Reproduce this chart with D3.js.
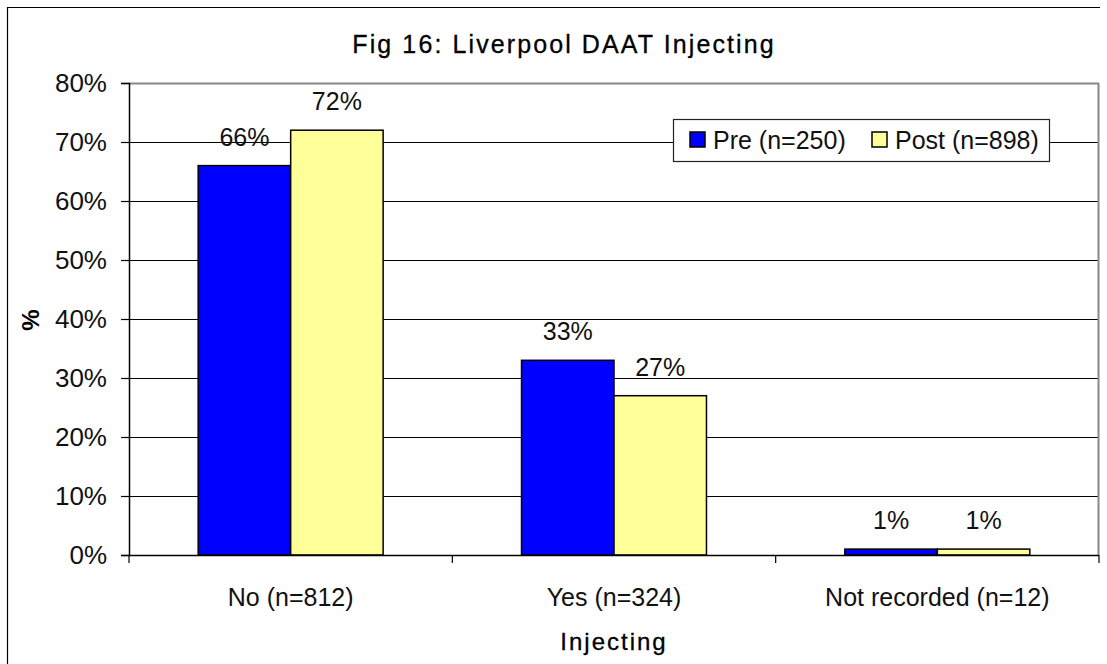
<!DOCTYPE html>
<html>
<head>
<meta charset="utf-8">
<script src="https://cdn.jsdelivr.net/npm/d3@7"></script>
<style>
  body { margin: 0; background: #fff; }
  svg { display: block; font-family: "Liberation Sans", Arial, sans-serif; }
</style>
</head>
<body>
<svg id="chart" width="1107" height="664"></svg>
<script>
var categories = ["No (n=812)", "Yes (n=324)", "Not recorded (n=12)"];
var seriesNames = ["Pre (n=250)", "Post (n=898)"];
var preValues = [66, 33, 1];
var postValues = [72, 27, 1];
var yTicks = [0, 10, 20, 30, 40, 50, 60, 70, 80];

var colors = ["#0000ff", "#ffff99"];

var data = categories.map(function(c, i) {
    return {cat: c, values: [preValues[i], postValues[i]]};
});

var margin = {top: 83, right: 8, bottom: 109, left: 129};
var width = 1107 - margin.left - margin.right;
var height = 664 - margin.top - margin.bottom;

var svg = d3.select('#chart');

// outer chart border (only top and left visible in frame)
svg.append("path")
    .attr("d", "M1100,7.5H7.5V664")
    .attr("fill", "none")
    .attr("stroke", "#000")
    .attr("stroke-width", 1.2);

svg.append("text")
    .attr("x", 564)
    .attr("y", 53)
    .attr("text-anchor", "middle")
    .attr("font-size", 25)
    .attr("letter-spacing", 2.1)
    .attr("fill", "#000")
    .attr("stroke", "#000")
    .attr("stroke-width", 0.3)
    .text("Fig 16: Liverpool DAAT Injecting");

var g = svg.append('g')
    .attr('transform', "translate(" + margin.left + "," + margin.top + ")");

var y = d3.scaleLinear().domain([0, 80]).range([height, 0]);

var x = d3.scaleBand()
    .domain(categories)
    .range([0, width])
    .paddingInner(0.428)
    .paddingOuter(0.214);

var xs = d3.scaleBand()
    .domain([0, 1])
    .range([0, x.bandwidth()]);

// gridlines
g.selectAll(".grid")
    .data(yTicks.slice(1))
    .enter()
    .append("line")
    .attr("x1", 0)
    .attr("x2", width)
    .attr("y1", function(d) { return Math.round(y(d)) + 0.5; })
    .attr("y2", function(d) { return Math.round(y(d)) + 0.5; })
    .attr("stroke", function(d) { return d === 80 ? "#888" : "#000"; })
    .attr("stroke-width", function(d) { return d === 80 ? 2 : 1; });

// right border of plot area
g.append("line")
    .attr("x1", width - 0.5).attr("x2", width - 0.5)
    .attr("y1", 0).attr("y2", height)
    .attr("stroke", "#888")
    .attr("stroke-width", 2);

// bars
var groups = g.selectAll(".group")
    .data(data)
    .enter()
    .append("g")
    .attr("transform", function(d) { return "translate(" + x(d.cat) + ",0)"; });

groups.selectAll("rect")
    .data(function(d) { return d.values; })
    .enter()
    .append("rect")
    .attr("x", function(d, i) { return xs(i); })
    .attr("y", function(d) { return y(d); })
    .attr("width", xs.bandwidth())
    .attr("height", function(d) { return height - y(d); })
    .attr("fill", function(d, i) { return colors[i]; })
    .attr("stroke", "#000")
    .attr("stroke-width", 1.5);

groups.selectAll(".label")
    .data(function(d) { return d.values; })
    .enter()
    .append("text")
    .attr("x", function(d, i) { return xs(i) + xs.bandwidth() / 2; })
    .attr("y", function(d) { return y(d) - 20; })
    .attr("text-anchor", "middle")
    .attr("font-size", 25)
    .attr("fill", "#111")
    .text(function(d) { return d + "%"; });

// y axis
var yAxis = d3.axisLeft(y)
    .tickValues(yTicks)
    .tickSize(8)
    .tickPadding(14)
    .tickFormat(function(d) { return d + "%"; });

var ya = g.append("g").call(yAxis);
ya.select(".domain").attr("stroke-width", 1.5);
ya.selectAll("text").attr("font-size", 26).attr("fill", "#111").attr("font-family", "Liberation Sans, Arial, sans-serif");
ya.selectAll("line").attr("stroke-width", 1.2);

// x axis
var xAxis = d3.axisBottom(x).tickSize(0).tickPadding(33);
var xa = g.append("g")
    .attr("transform", "translate(0," + height + ")")
    .call(xAxis);
xa.select(".domain").attr("d", "M0,0.5H" + width).attr("stroke-width", 1.5);
xa.selectAll("text").attr("font-size", 25).attr("fill", "#111").attr("font-family", "Liberation Sans, Arial, sans-serif");

// category boundary ticks
xa.selectAll(".bound")
    .data(d3.range(categories.length + 1))
    .enter()
    .append("line")
    .attr("x1", function(i) { return i * x.step(); })
    .attr("x2", function(i) { return i * x.step(); })
    .attr("y1", 0)
    .attr("y2", 8)
    .attr("stroke", "#000")
    .attr("stroke-width", 1.2);

// axis titles
svg.append("text")
    .attr("transform", "translate(39,320) rotate(-90)")
    .attr("text-anchor", "middle")
    .attr("font-size", 24)
    .attr("font-weight", "bold")
    .text("%");

svg.append("text")
    .attr("x", 614)
    .attr("y", 650)
    .attr("text-anchor", "middle")
    .attr("font-size", 24)
    .attr("letter-spacing", 2)
    .attr("fill", "#000")
    .attr("stroke", "#000")
    .attr("stroke-width", 0.3)
    .text("Injecting");

// legend
var legend = svg.append("g").attr("transform", "translate(673,119)");
legend.append("rect")
    .attr("x", 0.5).attr("y", 0.5)
    .attr("width", 376).attr("height", 42)
    .attr("fill", "#fff")
    .attr("stroke", "#222")
    .attr("stroke-width", 1.2);

var legendX = [17, 199];
seriesNames.forEach(function(name, i) {
    legend.append("rect")
        .attr("x", legendX[i]).attr("y", 13)
        .attr("width", 15).attr("height", 15)
        .attr("fill", colors[i])
        .attr("stroke", "#000")
        .attr("stroke-width", 1.5);
    legend.append("text")
        .attr("x", legendX[i] + 23)
        .attr("y", 30)
        .attr("font-size", 25)
        .attr("fill", "#111")
        .text(name);
});
</script>
</body>
</html>
